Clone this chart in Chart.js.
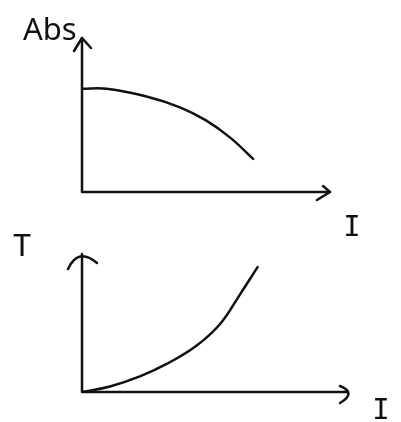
<!DOCTYPE html>
<html lang="en">
<head>
  <meta charset="UTF-8" />
  <title>Abs and T vs I</title>
  <script src="https://cdn.jsdelivr.net/npm/chart.js"></script>
  <style>
    body { margin: 0; background: #fff; width: 401px; height: 422px; position: relative; overflow: hidden; }
    canvas { position: absolute; left: 0; }
    #absChart { top: 0; }
    #tChart { top: 230px; }
  </style>
</head>
<body>
  <canvas id="absChart" width="401" height="242"></canvas>
  <canvas id="tChart" width="401" height="192"></canvas>

  <script>
    // absorbance falls off as current goes up
    const absCurrent = [0, 1.0, 2.6, 3.95, 5.0, 6.0, 6.9];
    const absValues = [6.7, 6.7, 6.2, 5.5, 4.65, 3.5, 2.15];

    // temperature climbs from zero with current
    const tCurrent = [0, 1.05, 2.2, 3.2, 4.3, 5.2, 5.9, 6.6];
    const tValues = [0, 0.4, 1.15, 2.05, 3.35, 4.95, 6.95, 9.05];

    const yNames = ['Abs', 'T'];
    const xName = 'I';

    const ink = '#111';

    // hand-drawn style axes with arrow ends and axis names
    const sketchAxes = {
      id: 'sketchAxes',
      afterDatasetsDraw(chart, args, opts) {
        const { ctx, chartArea: a, scales: { x, y } } = chart;
        const x0 = x.getPixelForValue(0);
        const y0 = y.getPixelForValue(0);
        ctx.save();
        ctx.strokeStyle = ink;
        ctx.fillStyle = ink;
        ctx.lineWidth = 2.5;
        ctx.lineCap = 'round';
        ctx.lineJoin = 'round';

        ctx.beginPath();
        ctx.moveTo(x0, a.top);
        ctx.lineTo(x0, y0);
        ctx.lineTo(a.right, y0);
        ctx.stroke();

        ctx.beginPath();
        if (opts.arrows === 'chevron') {
          ctx.moveTo(x0 - 8, a.top + 13);
          ctx.lineTo(x0, a.top);
          ctx.lineTo(x0 + 9, a.top + 10);
          ctx.moveTo(a.right - 7, y0 - 6);
          ctx.lineTo(a.right, y0);
          ctx.lineTo(a.right - 13, y0 + 8);
        } else {
          ctx.moveTo(x0 - 14, a.top + 15);
          ctx.quadraticCurveTo(x0 - 4, a.top - 7, x0 + 15, a.top + 9);
          ctx.moveTo(a.right - 8, y0 - 6);
          ctx.quadraticCurveTo(a.right + 9, y0 + 1, a.right - 8, y0 + 11);
        }
        ctx.stroke();

        ctx.textBaseline = 'alphabetic';
        ctx.textAlign = 'left';
        ctx.font = opts.yFont;
        ctx.fillText(opts.yName, a.left + opts.yPos[0], a.top + opts.yPos[1]);
        ctx.textAlign = 'center';
        ctx.font = '29px "DejaVu Sans Mono", monospace';
        ctx.fillText(xName, a.right + opts.xPos[0], a.bottom + opts.xPos[1]);
        ctx.restore();
      }
    };

    function makeChart(id, xs, ys, padding, axisOpts) {
      return new Chart(document.getElementById(id), {
        type: 'line',
        data: {
          datasets: [{
            data: xs.map((v, i) => ({ x: v, y: ys[i] })),
            borderColor: ink,
            borderWidth: 2.5,
            pointRadius: 0,
            tension: 0.4,
            borderCapStyle: 'round',
            fill: false
          }]
        },
        options: {
          responsive: false,
          animation: false,
          layout: { padding: padding },
          plugins: { legend: { display: false }, tooltip: { enabled: false }, sketchAxes: axisOpts },
          scales: {
            x: { type: 'linear', min: 0, max: 10, display: false },
            y: { min: 0, max: 10, display: false }
          }
        },
        plugins: [sketchAxes]
      });
    }

    makeChart('absChart', absCurrent, absValues,
      { left: 82, top: 38, right: 71, bottom: 50 },
      { arrows: 'chevron', yName: yNames[0], yFont: '31px "Noto Sans", sans-serif', yPos: [-59, 2], xPos: [22, 44] });

    makeChart('tChart', tCurrent, tValues,
      { left: 82, top: 24, right: 53, bottom: 30 },
      { arrows: 'arc', yName: yNames[1], yFont: '30px "DejaVu Sans Mono", monospace', yPos: [-69, 2], xPos: [33, 27] });
  </script>
</body>
</html>
